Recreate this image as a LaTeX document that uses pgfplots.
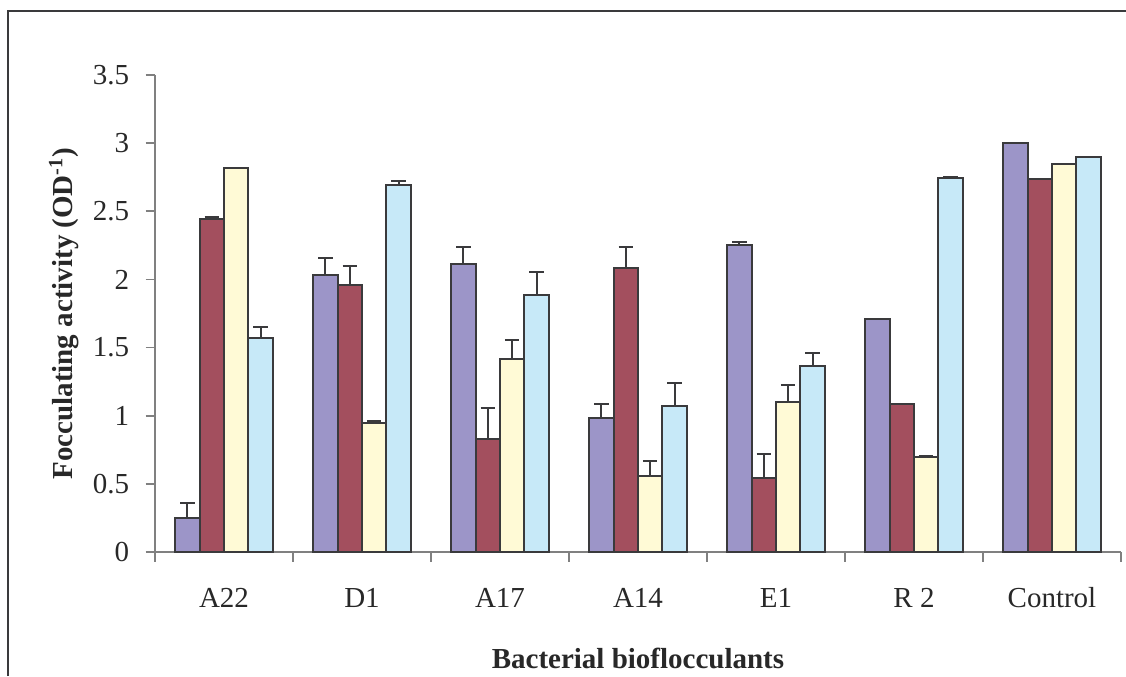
\documentclass[border=0pt]{standalone}
\usepackage{fontspec}
\setmainfont{Liberation Serif}
\usepackage{pgfplots}
\pgfplotsset{compat=1.18}
\usepackage{pgfplotstable}

\definecolor{cpurple}{RGB}{156,149,200}
\definecolor{cmaroon}{RGB}{163,79,94}
\definecolor{cyellow}{RGB}{255,250,214}
\definecolor{cblue}{RGB}{199,233,248}
\definecolor{cedge}{RGB}{58,58,60}
\definecolor{caxis}{RGB}{128,128,128}
\definecolor{ctext}{RGB}{40,40,40}

% x: group index, y: value, e: upper error
\pgfplotstableread{
x y e
0 0.25 0.11
1 2.03 0.125
2 2.11 0.125
3 0.985 0.10
4 2.25 0.025
5 1.707 0.005
6 3.00 0.0
}\seriesA
\pgfplotstableread{
x y e
0 2.443 0.015
1 1.96 0.135
2 0.832 0.225
3 2.081 0.154
4 0.545 0.175
5 1.083 0.005
6 2.734 0.0
}\seriesB
\pgfplotstableread{
x y e
0 2.815 0.005
1 0.946 0.015
2 1.416 0.139
3 0.555 0.115
4 1.098 0.125
5 0.697 0.005
6 2.847 0.0
}\seriesC
\pgfplotstableread{
x y e
0 1.568 0.085
1 2.693 0.027
2 1.888 0.166
3 1.069 0.169
4 1.362 0.098
5 2.746 0.005
6 2.900 0.0
}\seriesD

\begin{document}
\begin{tikzpicture}
\useasboundingbox (0,0) rectangle (563pt,338pt);
\draw[line width=1pt, color=cedge] (4pt,0pt) -- (4pt,332.5pt) -- (563pt,332.5pt);
\begin{axis}[
  at={(77.5pt,62pt)}, anchor=south west,
  scale only axis,
  width=483pt, height=238.5pt,
  xmin=-0.5, xmax=6.5,
  ymin=0, ymax=3.5,
  ytick={0,0.5,...,3.5},
  yticklabels={0,0.5,1,1.5,2,2.5,3,3.5},
  xtick={-0.5,0.5,1.5,2.5,3.5,4.5,5.5,6.5},
  xticklabels={},
  extra x ticks={0,1,2,3,4,5,6},
  extra x tick labels={A22,D1,A17,A14,E1,R 2,Control},
  extra x tick style={major tick length=0pt,
     xticklabel style={anchor=base, yshift=-27.5pt, inner sep=0pt}},
  separate axis lines,
  axis x line*=bottom,
  axis y line*=left,
  axis line style={-, draw=caxis, line width=0.8pt},
  tick align=outside,
  major tick length=4.75pt,
  tick style={draw=caxis, line width=0.8pt},
  tick label style={font=\fontsize{14.5}{17}\selectfont, text=ctext},
  yticklabel style={anchor=east, inner sep=0pt, xshift=-8pt},
  /pgf/number format/assume math mode=true,
  ylabel={\textbf{Focculating activity (OD\textsuperscript{-1})}},
  ylabel style={at={(axis description cs:-0.0942,0.5)}, anchor=center,
     font=\fontsize{14.5}{17}\selectfont, text=ctext},
  xlabel={\textbf{Bacterial bioflocculants}},
  xlabel style={at={(axis description cs:0.5,-0.223)}, anchor=center,
     font=\fontsize{14.5}{17}\selectfont, text=ctext},
  ybar=0pt,
  bar width=12.2pt,
  every axis plot/.append style={draw=cedge, line width=1pt},
  error bars/y dir=plus,
  error bars/y explicit,
  error bars/error bar style={line width=1pt, draw=cedge},
  error bars/error mark options={mark size=3.6pt, line width=1pt, draw=cedge, rotate=90},
]
\addplot[fill=cpurple, draw=cedge] table[x=x, y=y, y error=e] {\seriesA};
\addplot[fill=cmaroon, draw=cedge] table[x=x, y=y, y error=e] {\seriesB};
\addplot[fill=cyellow, draw=cedge] table[x=x, y=y, y error=e] {\seriesC};
\addplot[fill=cblue, draw=cedge] table[x=x, y=y, y error=e] {\seriesD};
\end{axis}
\end{tikzpicture}
\end{document}
